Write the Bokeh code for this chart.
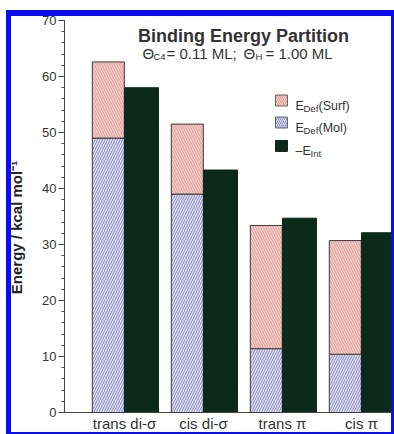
from bokeh.plotting import figure
from bokeh.models import Range1d, FixedTicker, ColumnDataSource, Span
from bokeh.core.properties import value
from bokeh.embed import file_html
from bokeh.resources import INLINE

# ---- data ----
categories = ["trans di-σ", "cis di-σ", "trans π", "cis π"]
e_def_mol = [49.0, 39.0, 11.4, 10.4]
e_def_surf = [13.6, 12.5, 22.0, 20.3]
neg_e_int = [58.0, 43.3, 34.7, 32.1]
y_ticks = [0, 10, 20, 30, 40, 50, 60, 70]

FONT = "Liberation Sans"
TXT = "#333333"
idx = list(range(len(categories)))
surf_top = [m + s for m, s in zip(e_def_mol, e_def_surf)]

W, H = 394, 434
FL, FR, FT, FB = 64, 391, 20, 412   # plot area edges (px); FB is y = 0
GX0, GDX = 124.0, 79.0              # first group centre, group spacing (px)
PPU = (FB - FT) / 70.0              # px per kcal/mol

src = ColumnDataSource(dict(
    xs=[i - 0.205 for i in idx],
    xd=[i + 0.215 for i in idx],
    mol=e_def_mol, surf=surf_top, eint=neg_e_int,
))

p = figure(width=W, height=H, output_backend="svg", toolbar_location=None,
           x_axis_location=None,
           x_range=Range1d((FL - GX0) / GDX, (FR - GX0) / GDX),
           y_range=Range1d(-(H - FB) / PPU, 70),
           min_border_left=FL, min_border_right=W - FR, min_border_top=FT,
           min_border_bottom=0)
p.background_fill_color = None
p.border_fill_color = None
p.outline_line_color = None
p.xgrid.visible = False
p.ygrid.visible = False

BLUE = "#0c0cf2"
g = f"linear-gradient({BLUE},{BLUE})"
p.styles = {
    "background-color": "white",
    "background-image": ", ".join([g, g, g, g]),
    "background-position": "6px 10px, 6px 10px, 391px 10px, 6px 432px",
    "background-size": "5px 424px, 388px 6px, 3px 424px, 388px 2px",
    "background-repeat": "no-repeat",
}

PINK, PINK_H = "#f5cbc6", "#dc9f9a"
LAV, LAV_H = "#dcdcef", "#8e8ec4"
DARK = "#0c2a1c"

# bars
p.vbar(x="xs", width=0.405, bottom=0, top="mol", source=src,
       fill_color=LAV, hatch_pattern="/", hatch_color=LAV_H,
       hatch_scale=5, hatch_weight=1, line_color="#3a3a3a", line_width=1)
p.vbar(x="xs", width=0.405, bottom="mol", top="surf", source=src,
       fill_color=PINK, hatch_pattern="\\", hatch_color=PINK_H,
       hatch_scale=5, hatch_weight=1, line_color="#3a3a3a", line_width=1)
p.vbar(x="xd", width=0.43, bottom=0, top="eint", source=src,
       fill_color=DARK, line_color=DARK, line_width=1)

# x axis line at zero
p.add_layout(Span(location=0, dimension="width", line_color="#444444",
                  line_width=1))

# y axis
p.yaxis.bounds = (0, 70)
p.yaxis.ticker = FixedTicker(ticks=y_ticks,
                             minor_ticks=[v for v in range(0, 71, 2)])
p.yaxis.axis_label = "Energy / kcal mol⁻¹"
p.yaxis.axis_label_text_font = FONT
p.yaxis.axis_label_text_font_style = "bold"
p.yaxis.axis_label_text_font_size = "15px"
p.yaxis.axis_label_text_color = "#222222"
p.yaxis.axis_label_standoff = 14
p.yaxis.major_label_text_font = FONT
p.yaxis.major_label_text_font_size = "13px"
p.yaxis.major_label_text_color = TXT
p.yaxis.major_label_standoff = 2
p.yaxis.major_tick_out = 6
p.yaxis.major_tick_in = 0
p.yaxis.minor_tick_out = 3
p.yaxis.minor_tick_in = 0
p.yaxis.axis_line_color = "#444444"
p.yaxis.major_tick_line_color = "#444444"
p.yaxis.minor_tick_line_color = "#444444"


def xd(px):
    return (px - GX0) / GDX


def yd(py):
    return (FB - py) / PPU


def txt(x, y, s, size, bold=False, align="left", baseline="alphabetic"):
    p.text(x=[xd(x)], y=[yd(y)], text=[s], text_font=value(FONT),
           text_font_style="bold" if bold else "normal",
           text_font_size=f"{size}px", text_align=align,
           text_baseline=baseline, text_color=TXT)


# category labels under the axis
p.text(x=idx, y=[yd(414)] * len(idx), text=categories, text_font=value(FONT),
       text_font_size="15px", text_align="center", text_baseline="top",
       text_color=TXT)

# title and subtitle
txt(243, 35, "Binding Energy Partition", 18, bold=True, align="center")
for x, y, s, fs in [(142, 53, "Θ", 15), (153, 56, "C4", 9.5),
                    (166, 53, "= 0.11 ML;", 15), (243, 53, "Θ", 15),
                    (255, 56, "H", 9.5), (265, 53, "= 1.00 ML", 15)]:
    txt(x, y, s, fs)

# legend (manual, for subscripts)
leg_w = 12 / GDX
leg_h = 11 / PPU
p.rect(x=[xd(281)], y=[yd(100)], width=leg_w, height=leg_h,
       fill_color=PINK, hatch_pattern="\\", hatch_color=PINK_H,
       hatch_scale=4, line_color="#666666")
p.rect(x=[xd(281)], y=[yd(122)], width=leg_w, height=leg_h,
       fill_color=LAV, hatch_pattern="/", hatch_color=LAV_H,
       hatch_scale=4, line_color="#666666")
p.rect(x=[xd(281)], y=[yd(145.5)], width=leg_w, height=leg_h,
       fill_color=DARK, line_color=DARK)

for x, y, s, fs in [(295, 105, "E", 12.5), (303, 108, "Def", 9.5),
                    (318, 105, "(Surf)", 12.5),
                    (295, 127, "E", 12.5), (303, 130, "Def", 9.5),
                    (318, 127, "(Mol)", 12.5),
                    (295, 150, "–E", 12.5), (310, 153, "Int", 9.5)]:
    txt(x, y, s, fs)

open("out.html", "w").write(file_html(p, INLINE))
